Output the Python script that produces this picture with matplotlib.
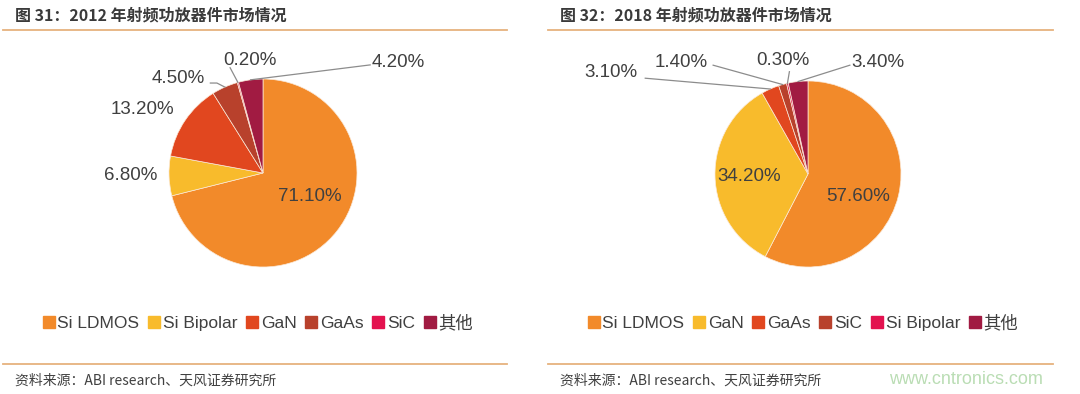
import matplotlib
matplotlib.use("Agg")
import matplotlib.pyplot as plt
from matplotlib.lines import Line2D
import numpy as np

plt.rcParams['font.family'] = ['Liberation Sans', 'Noto Sans CJK SC', 'DejaVu Sans']

# ---- data ----
titles = ["图 31：2012 年射频功放器件市场情况", "图 32：2018 年射频功放器件市场情况"]
cats_2012 = ["Si LDMOS", "Si Bipolar", "GaN", "GaAs", "SiC", "其他"]
vals_2012 = [71.1, 6.8, 13.2, 4.5, 0.2, 4.2]
cats_2018 = ["Si LDMOS", "GaN", "GaAs", "SiC", "Si Bipolar", "其他"]
vals_2018 = [57.6, 34.2, 3.1, 1.4, 0.3, 3.4]
source = "资料来源：ABI research、天风证券研究所"

palette = ["#F28A2A", "#F8BB2C", "#E1471F", "#B8412C", "#E3124F", "#A11B42"]
TXT = "#404040"
LINE = "#E6B27E"

W, H = 1080, 394
fig = plt.figure(figsize=(W / 100, H / 100), dpi=100)

def fx(px):
    return px / W

def fy(py):
    return 1 - py / H

# label layout (data units, radius=1): (x, y, ha, leader_end or None)
layouts = [
    [(0.50, -0.245, 'center', None),
     (-1.12, -0.03, 'right', None),
     (-0.94, 0.68, 'right', None),
     (-0.62, 1.01, 'right', [(-0.49, 0.957), (-0.56, 0.957)]),
     (-0.14, 1.20, 'center', [(-0.35, 1.12)]),
     (1.16, 1.18, 'left', [(1.14, 1.15)])],
    [(0.54, -0.24, 'center', None),
     (-0.63, -0.03, 'center', None),
     (-1.83, 1.09, 'right', [(-1.75, 1.03)]),
     (-1.08, 1.20, 'right', [(-1.02, 1.17)]),
     (-0.27, 1.22, 'center', [(-0.20, 1.10)]),
     (0.47, 1.20, 'left', [(0.45, 1.17)])],
]

panels = [
    dict(cx=263, cy=173, R=94, x0=3, x1=507, tx=15, cats=cats_2012, vals=vals_2012, lx=258),
    dict(cx=808, cy=174, R=93, x0=548, x1=1053, tx=560, cats=cats_2018, vals=vals_2018, lx=803),
]

for i, p in enumerate(panels):
    hw, hh = 240, 110
    ax = fig.add_axes([fx(p['cx'] - hw), fy(p['cy'] + hh), fx(2 * hw), 2 * hh / H])
    wedges, _ = ax.pie(p['vals'], colors=palette, startangle=90, counterclock=False,
                       radius=1, wedgeprops=dict(edgecolor='#FBE9D8', linewidth=0.5))
    ax.set_xlim(-hw / p['R'], hw / p['R'])
    ax.set_ylim(-hh / p['R'], hh / p['R'])
    ax.axis('off')
    for w, v, (x, y, ha, lead) in zip(wedges, p['vals'], layouts[i]):
        ax.text(x, y, f"{v:.2f}%", ha=ha, va='center', fontsize=13.5, color=TXT)
        if lead is not None:
            mid = np.deg2rad((w.theta1 + w.theta2) / 2)
            pts = [(np.cos(mid), np.sin(mid))] + lead
            xs, ys = zip(*pts)
            ax.plot(xs, ys, color='#8C8C8C', lw=0.9, clip_on=False)

    # title, rules, source
    fig.text(fx(p['tx']), fy(15), titles[i], fontsize=11.5, fontweight='bold', color='#3A3A3A',
             family=['Noto Sans CJK SC'], ha='left', va='center')
    fig.add_artist(Line2D([fx(p['x0']), fx(p['x1'])], [fy(30), fy(30)], color=LINE, lw=1.3))
    fig.add_artist(Line2D([fx(p['x0']), fx(p['x1'])], [fy(364), fy(364)], color=LINE, lw=1.3))
    fig.text(fx(p['tx']), fy(381), source, fontsize=10, color=TXT,
             family=['Noto Sans CJK SC'], ha='left', va='center')

    handles = [Line2D([], [], marker='s', ls='none', markersize=8, color=c) for c in palette]
    fig.legend(handles, p['cats'], loc='center', bbox_to_anchor=(fx(p['lx']), fy(323)),
               ncol=6, frameon=False, fontsize=12.5, handlelength=0.7, handletextpad=0.15,
               columnspacing=0.5, labelcolor=TXT, borderaxespad=0)

fig.text(fx(1043), fy(380), "www.cntronics.com", fontsize=13, color='#BADDB4', ha='right', va='center')

fig.savefig("out.png", dpi=100, facecolor='white')
